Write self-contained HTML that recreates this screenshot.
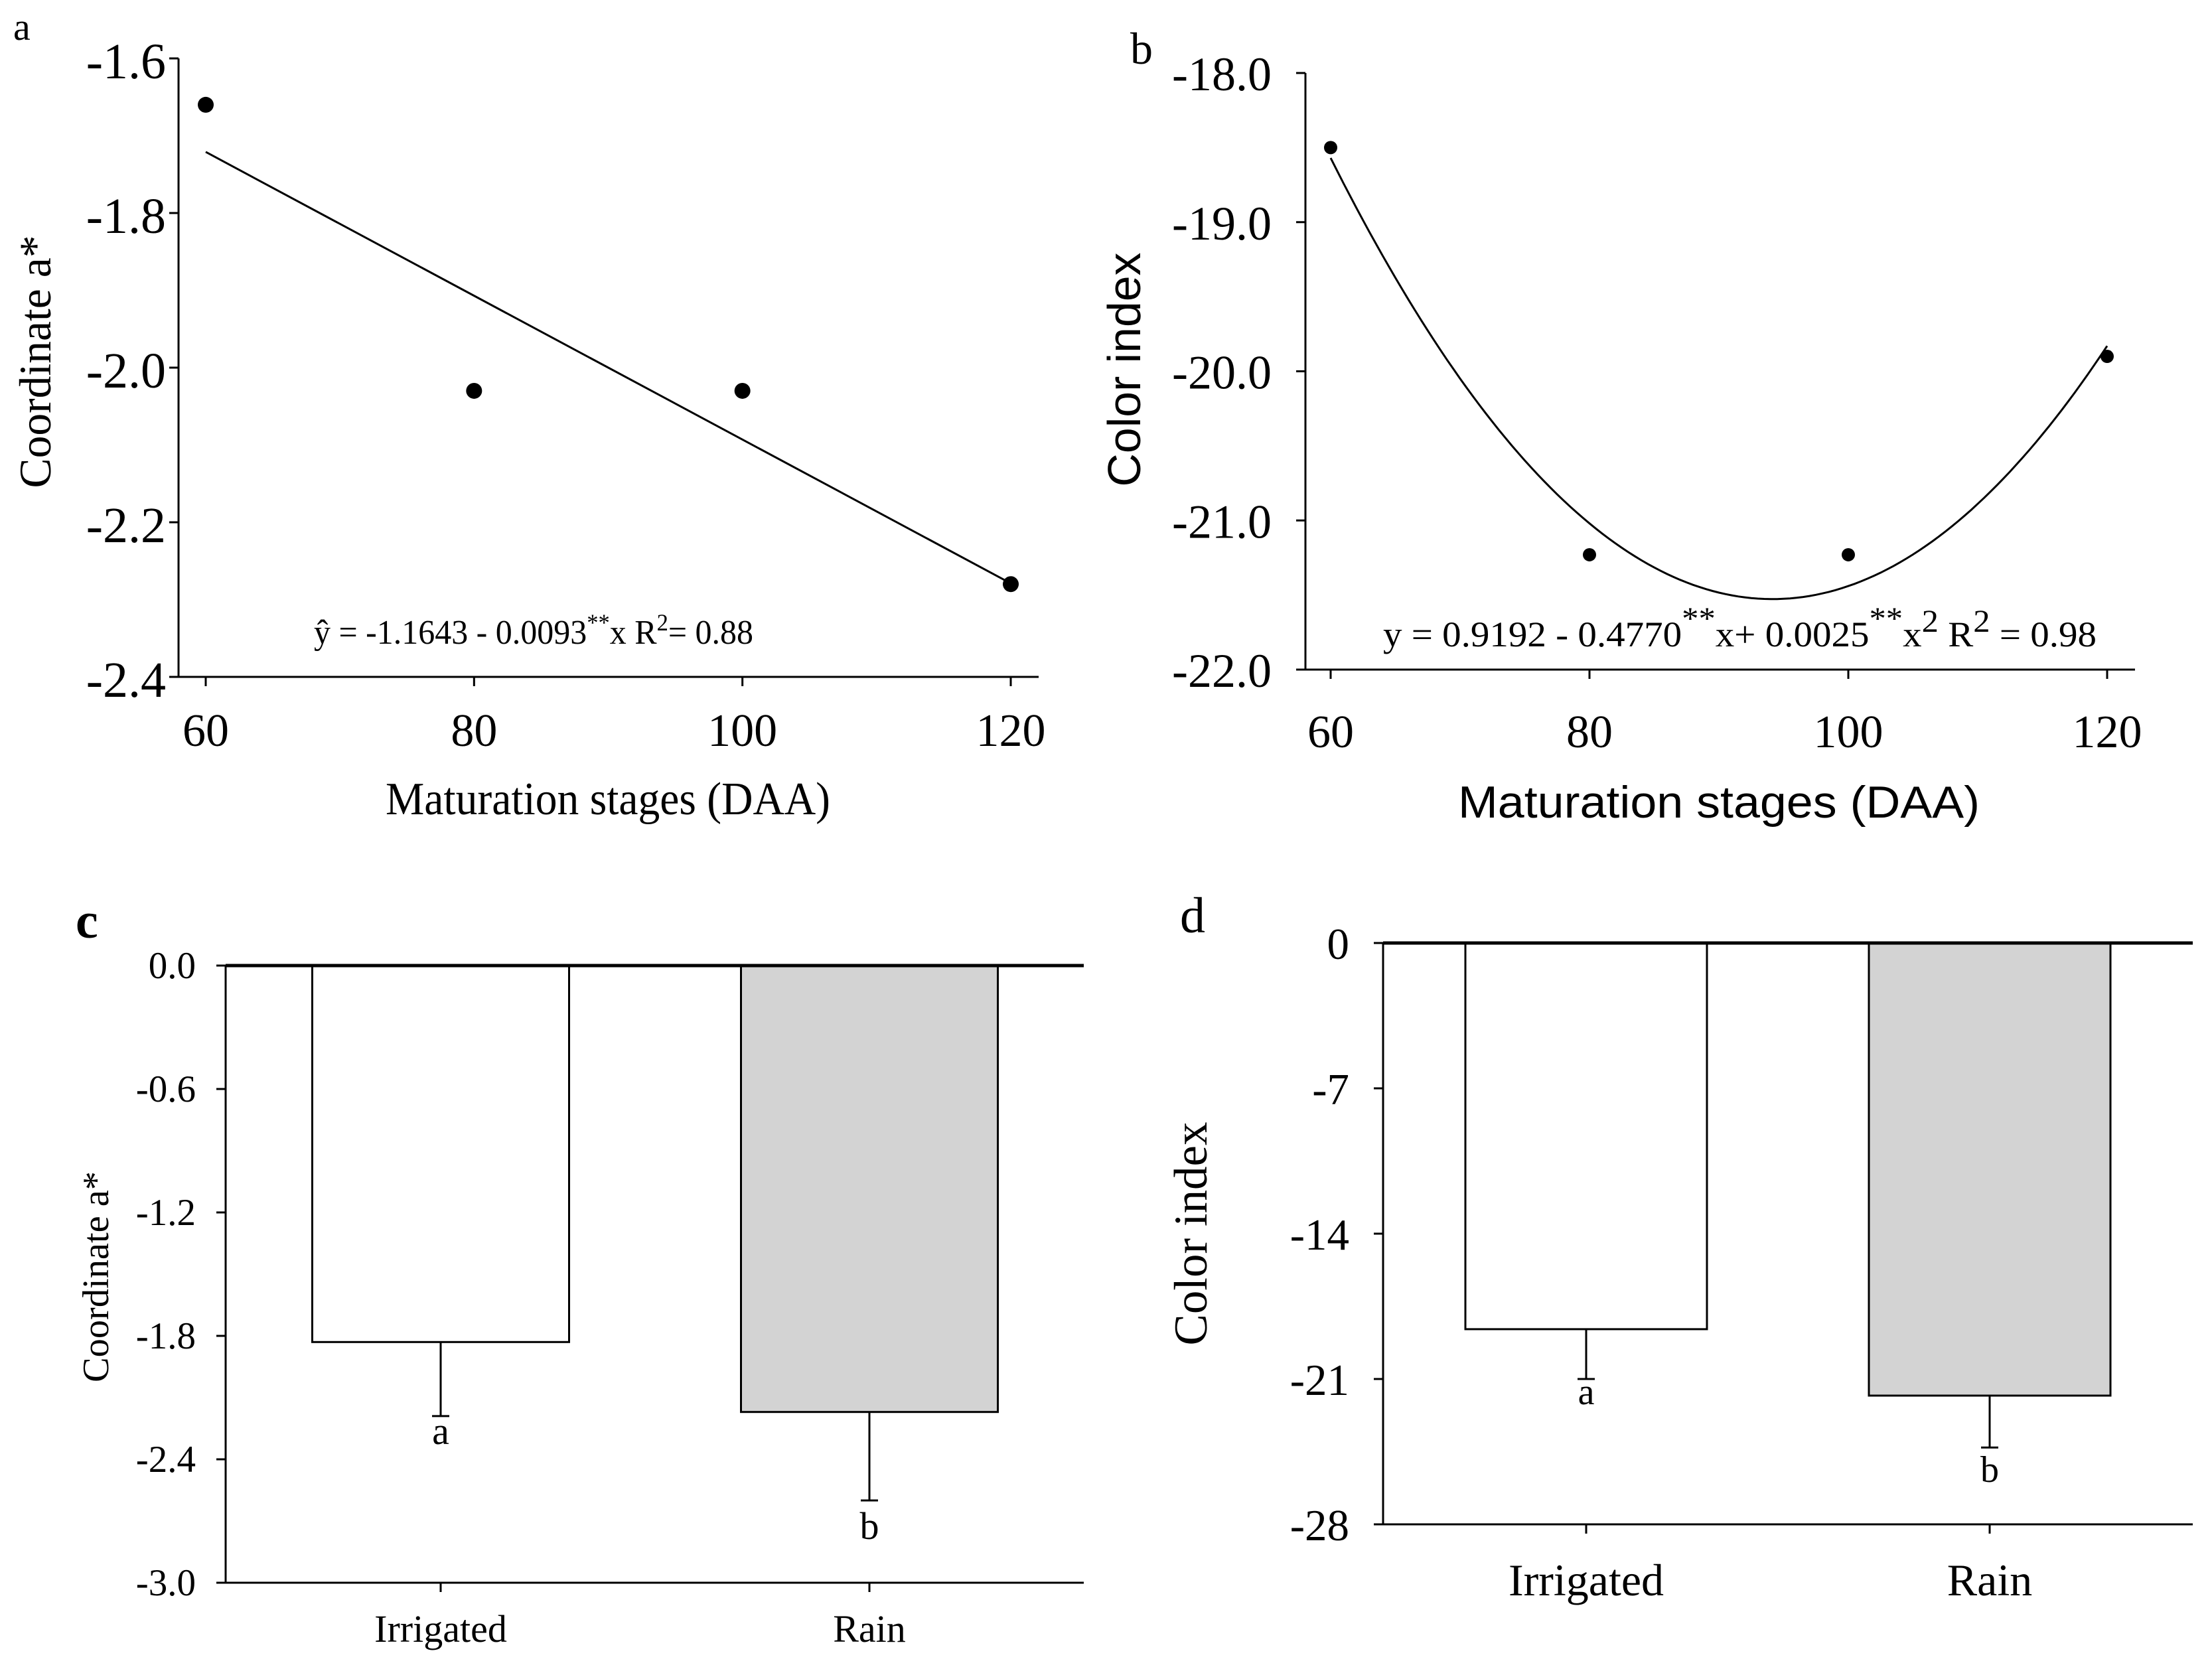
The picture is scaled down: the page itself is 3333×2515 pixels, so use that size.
<!DOCTYPE html>
<html><head><meta charset="utf-8"><style>
html,body{margin:0;padding:0;background:#fff}
svg{display:block}
.serif{font-family:"Liberation Serif",serif}
.sans{font-family:"Liberation Sans",sans-serif}
</style></head><body>
<svg id="fig" width="3333" height="2515" viewBox="0 0 3333 2515" xmlns="http://www.w3.org/2000/svg">
<rect width="3333" height="2515" fill="#fff"/>
</svg>
<script>
// ---- Panel a data ----
const aX = [60, 80, 100, 120];
const aY = [-1.66, -2.03, -2.03, -2.28];
const aYTicks = [-1.6, -1.8, -2.0, -2.2, -2.4];
const aXTicks = [60, 80, 100, 120];
// ---- Panel b data ----
const bX = [60, 80, 100, 120];
const bY = [-18.5, -21.23, -21.23, -19.9];
const bYTicks = [-18.0, -19.0, -20.0, -21.0, -22.0];
const bXTicks = [60, 80, 100, 120];
// ---- Panel c data ----
const cCats = ["Irrigated", "Rain"];
const cVals = [-1.83, -2.17];
const cErr = [0.36, 0.43];
const cLetters = ["a", "b"];
const cYTicks = [0.0, -0.6, -1.2, -1.8, -2.4, -3.0];
// ---- Panel d data ----
const dCats = ["Irrigated", "Rain"];
const dVals = [-18.6, -21.8];
const dErr = [2.4, 2.5];
const dLetters = ["a", "b"];
const dYTicks = [0, -7, -14, -21, -28];

const NS = "http://www.w3.org/2000/svg";
const svg = document.getElementById('fig');
function mk(tag, attrs, parent) {
  const e = document.createElementNS(NS, tag);
  for (const k in attrs) e.setAttribute(k, attrs[k]);
  (parent || svg).appendChild(e);
  return e;
}
function lin(d0, d1, r0, r1) { return v => r0 + (v - d0) * (r1 - r0) / (d1 - d0); }
function line(x1, y1, x2, y2, w, p) { return mk('line', {x1, y1, x2, y2, stroke: '#000', 'stroke-width': w || 3}, p); }
function text(str, x, y, size, cls, anchor, p, extra) {
  const t = mk('text', Object.assign({x, y, 'font-size': size, class: cls, 'text-anchor': anchor || 'middle', fill: '#000'}, extra || {}), p);
  t.textContent = str;
  return t;
}
function fmt1(v) { return v.toFixed(1).replace('-0.0', '0.0'); }

// ===== Panel a =====
(function () {
  const g = mk('g', {});
  
  
  const X = lin(60, 120, 310, 1523), Y = lin(-1.6, -2.4, 88, 1020);
  const ax = line(269, 88, 269, 1020, 3, g);
   
  const bx = line(269, 1020, 1565, 1020, 3, g);
   
  aYTicks.forEach(v => {
    line(255, Y(v), 269, Y(v), 3, g);
    const t = text(fmt1(v), 250, Y(v) + 30, 76, 'serif', 'end', g);
     
  });
  aXTicks.forEach(v => {
    line(X(v), 1020, X(v), 1034, 3, g);
    const t = text(String(v), X(v), 1124, 70, 'serif', 'middle', g);
     
  });
  const n = aX.length, mx = aX.reduce((s, v) => s + v, 0) / n, my = aY.reduce((s, v) => s + v, 0) / n;
  let sxy = 0, sxx = 0; aX.forEach((x, i) => { sxy += (x - mx) * (aY[i] - my); sxx += (x - mx) ** 2; });
  const b1 = sxy / sxx, b0 = my - b1 * mx;
  const fl = line(X(60), Y(b0 + b1 * 60), X(120), Y(b0 + b1 * 120), 3, g);
   
  aX.forEach((x, i) => {
    const c = mk('circle', {cx: X(x), cy: Y(aY[i]), r: 12, fill: '#000'}, g);
     
  });
  const eq = mk('text', {x: 473, y: 970, 'font-size': 52, class: 'serif', fill: '#000', textLength: 662, lengthAdjust: 'spacingAndGlyphs'}, g);
   
  eq.innerHTML = 'ŷ = -1.1643 - 0.0093<tspan dy="-20" font-size="36">**</tspan><tspan dy="20">x R</tspan><tspan dy="-20" font-size="36">2</tspan><tspan dy="20">= 0.88</tspan>';
  const xt = text('Maturation stages (DAA)', 916, 1227, 70, 'serif', 'middle', g, {textLength: 670, lengthAdjust: 'spacingAndGlyphs'});
   
  const yt = text('Coordinate a*', 0, 0, 68, 'serif', 'middle', g, {transform: 'translate(76,545) rotate(-90)', textLength: 381, lengthAdjust: 'spacingAndGlyphs'});
   
  const pl = text('a', 20, 60, 58, 'serif', 'start', g);
   
})();

// ===== Panel b =====
(function () {
  const g = mk('g', {});
  
  
  const X = lin(60, 120, 2005, 3175), Y = lin(-18, -22, 110, 1009);
  const ax = line(1967, 110, 1967, 1009, 3, g);
   
  const bx = line(1967, 1009, 3217, 1009, 3, g);
   
  bYTicks.forEach(v => {
    line(1953, Y(v), 1967, Y(v), 3, g);
    const t = text(v.toFixed(1), 1916, Y(v) + 26, 72, 'serif', 'end', g);
     
  });
  bXTicks.forEach(v => {
    line(X(v), 1009, X(v), 1023, 3, g);
    const t = text(String(v), X(v), 1126, 70, 'serif', 'middle', g);
     
  });
  let S = [0, 0, 0, 0, 0], T = [0, 0, 0];
  bX.forEach((x, i) => { for (let k = 0; k < 5; k++) S[k] += x ** k; for (let k = 0; k < 3; k++) T[k] += bY[i] * x ** k; });
  const M = [[S[0], S[1], S[2], T[0]], [S[1], S[2], S[3], T[1]], [S[2], S[3], S[4], T[2]]];
  for (let i = 0; i < 3; i++) { for (let j = i + 1; j < 3; j++) { const f = M[j][i] / M[i][i]; for (let k = i; k < 4; k++) M[j][k] -= f * M[i][k]; } }
  const c = [0, 0, 0];
  for (let i = 2; i >= 0; i--) { let s = M[i][3]; for (let k = i + 1; k < 3; k++) s -= M[i][k] * c[k]; c[i] = s / M[i][i]; }
  let d = '';
  for (let x = 60; x <= 120.001; x += 0.5) { const y = c[0] + c[1] * x + c[2] * x * x; d += (d ? 'L' : 'M') + X(x).toFixed(1) + ',' + Y(y).toFixed(1); }
  const p = mk('path', {d, fill: 'none', stroke: '#000', 'stroke-width': 3}, g);
   
  bX.forEach((x, i) => {
    const cc = mk('circle', {cx: X(x), cy: Y(bY[i]), r: 10, fill: '#000'}, g);
     
  });
  const eq = mk('text', {x: 2084, y: 974, 'font-size': 54, class: 'serif', fill: '#000', textLength: 1075, lengthAdjust: 'spacingAndGlyphs'}, g);
   
  eq.innerHTML = 'y = 0.9192 - 0.4770<tspan dy="-26" font-size="48">**</tspan><tspan dy="26">x+ 0.0025</tspan><tspan dy="-26" font-size="48">**</tspan><tspan dy="26">x</tspan><tspan dy="-22" font-size="48">2</tspan><tspan dy="22"> R</tspan><tspan dy="-22" font-size="48">2</tspan><tspan dy="22"> = 0.98</tspan>';
  const xt = text('Maturation stages (DAA)', 2590, 1232, 68, 'sans', 'middle', g, {textLength: 786, lengthAdjust: 'spacingAndGlyphs'});
   
  const yt = text('Color index', 0, 0, 70, 'sans', 'middle', g, {transform: 'translate(1718,557) rotate(-90)', textLength: 353, lengthAdjust: 'spacingAndGlyphs'});
   
  const pl = text('b', 1703, 96, 68, 'serif', 'start', g);
   
})();

// ===== Bar panels =====
function barPanel(o) {
  const g = mk('g', {});
  
  
  const Y = lin(o.ymax, o.ymin, o.top, o.bottom);
  const ax = line(o.left, o.top, o.left, o.bottom, 3, g);
   
  const bx = line(o.left, o.bottom, o.right, o.bottom, 3, g);
   
  o.ticks.forEach(v => {
    line(o.left - 14, Y(v), o.left, Y(v), 3, g);
    const t = text(o.fmt(v), o.tickRight, Y(v) + o.tickOff, o.tickSize, 'serif', 'end', g);
     
  });
  o.cats.forEach((cat, i) => {
    const cx = o.centers[i], hw = o.barW / 2;
    const y0 = Y(0), y1 = Y(o.vals[i]);
    const r = mk('rect', {x: cx - hw, y: y0, width: o.barW, height: y1 - y0, fill: o.fills[i], stroke: '#000', 'stroke-width': 3}, g);
     
    const ye = Y(o.vals[i] - o.err[i]);
    const el = line(cx, y1, cx, ye, 3, g);
     
    line(cx - 13, ye, cx + 13, ye, 3, g);
    const lt = text(o.letters[i], cx, ye + o.letterOff[i], o.letterSize, 'serif', 'middle', g);
     
    line(cx, o.bottom, cx, o.bottom + 14, 3, g);
    const xl = text(cat, cx, o.catY, o.catSize, 'serif', 'middle', g);
     
  });
  const zl = line(o.left, Y(0), o.right, Y(0), 5, g);
   
  const yt = text(o.ytitle, 0, 0, o.ytSize, 'serif', 'middle', g, {transform: `translate(${o.ytX},${o.ytY}) rotate(-90)`, textLength: o.ytLen, lengthAdjust: 'spacingAndGlyphs'});
   
  const pl = text(o.label, o.labelX, o.labelY, o.labelSize, 'serif', 'start', g, o.labelBold ? {'font-weight': 'bold'} : {});
   
}

barPanel({
  name: 'panel-c', cats: cCats, vals: cVals, err: cErr, letters: cLetters, ticks: cYTicks,
  ymax: 0, ymin: -3, top: 1455, bottom: 2385, left: 340, right: 1633,
  centers: [664, 1310], barW: 387, fills: ['#fff', '#d3d3d3'], fmt: fmt1,
  tickRight: 295, tickOff: 19, tickSize: 57, letterOff: [42, 58], letterSize: 58, catY: 2474, catSize: 58,
  ytitle: 'Coordinate a*', ytX: 163, ytY: 1924, ytLen: 318, ytSize: 56,
  label: 'c', labelX: 114, labelY: 1413, labelSize: 76, labelBold: true
});
barPanel({
  name: 'panel-d', cats: dCats, vals: dVals, err: dErr, letters: dLetters, ticks: dYTicks,
  ymax: 0, ymin: -28, top: 1421, bottom: 2297, left: 2084, right: 3304,
  centers: [2390, 2998], barW: 364, fills: ['#fff', '#d3d3d3'], fmt: v => String(v),
  tickRight: 2033, tickOff: 24, tickSize: 67, letterOff: [38, 52], letterSize: 56, catY: 2404, catSize: 68,
  ytitle: 'Color index', ytX: 1818, ytY: 1859, ytLen: 337, ytSize: 71,
  label: 'd', labelX: 1778, labelY: 1405, labelSize: 76, labelBold: false
});
</script>
</body></html>
